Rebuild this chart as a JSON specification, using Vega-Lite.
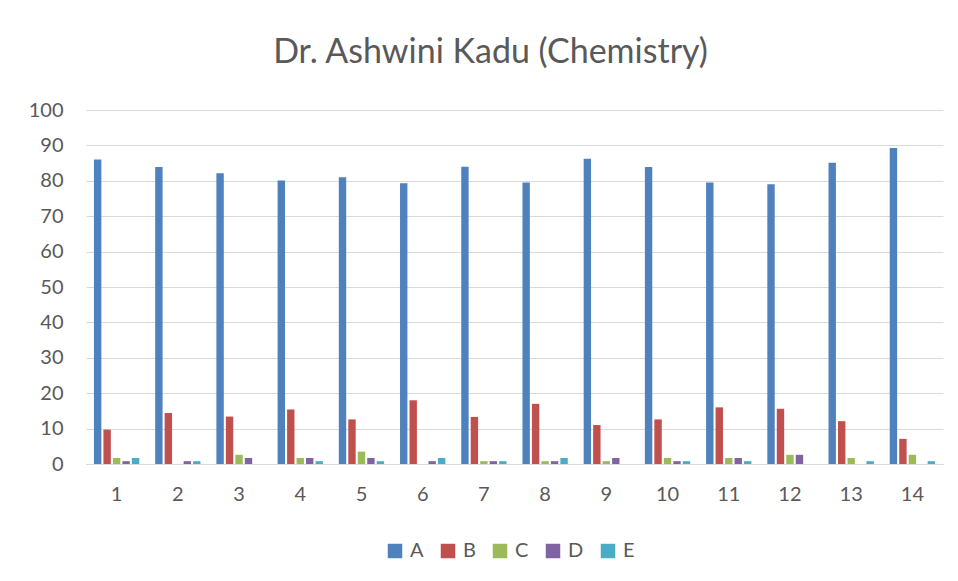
{
  "$schema": "https://vega.github.io/schema/vega-lite/v6.json",
  "autosize": "none",
  "width": 857,
  "height": 354,
  "padding": {"left": 86, "top": 110, "right": 15, "bottom": 117},
  "background": "white",
  "title": {"text": "Dr. Ashwini Kadu (Chemistry)", "fontSize": 34, "font": "Lato", "fontWeight": "normal", "color": "#595959", "anchor": "middle", "dx": -24, "offset": 30},
  "data": {"values": [
    {"g": "1", "s": "A", "v": 86.0}, {"g": "1", "s": "B", "v": 9.7}, {"g": "1", "s": "C", "v": 1.7}, {"g": "1", "s": "D", "v": 0.8}, {"g": "1", "s": "E", "v": 1.7},
    {"g": "2", "s": "A", "v": 83.9}, {"g": "2", "s": "B", "v": 14.4}, {"g": "2", "s": "C", "v": 0}, {"g": "2", "s": "D", "v": 0.8}, {"g": "2", "s": "E", "v": 0.8},
    {"g": "3", "s": "A", "v": 82.1}, {"g": "3", "s": "B", "v": 13.4}, {"g": "3", "s": "C", "v": 2.6}, {"g": "3", "s": "D", "v": 1.7}, {"g": "3", "s": "E", "v": 0},
    {"g": "4", "s": "A", "v": 80.1}, {"g": "4", "s": "B", "v": 15.4}, {"g": "4", "s": "C", "v": 1.7}, {"g": "4", "s": "D", "v": 1.7}, {"g": "4", "s": "E", "v": 0.8},
    {"g": "5", "s": "A", "v": 81.0}, {"g": "5", "s": "B", "v": 12.6}, {"g": "5", "s": "C", "v": 3.5}, {"g": "5", "s": "D", "v": 1.7}, {"g": "5", "s": "E", "v": 0.8},
    {"g": "6", "s": "A", "v": 79.3}, {"g": "6", "s": "B", "v": 18.0}, {"g": "6", "s": "C", "v": 0}, {"g": "6", "s": "D", "v": 0.8}, {"g": "6", "s": "E", "v": 1.7},
    {"g": "7", "s": "A", "v": 84.0}, {"g": "7", "s": "B", "v": 13.3}, {"g": "7", "s": "C", "v": 0.8}, {"g": "7", "s": "D", "v": 0.8}, {"g": "7", "s": "E", "v": 0.8},
    {"g": "8", "s": "A", "v": 79.5}, {"g": "8", "s": "B", "v": 17.0}, {"g": "8", "s": "C", "v": 0.8}, {"g": "8", "s": "D", "v": 0.8}, {"g": "8", "s": "E", "v": 1.7},
    {"g": "9", "s": "A", "v": 86.2}, {"g": "9", "s": "B", "v": 11.0}, {"g": "9", "s": "C", "v": 0.8}, {"g": "9", "s": "D", "v": 1.7}, {"g": "9", "s": "E", "v": 0},
    {"g": "10", "s": "A", "v": 83.9}, {"g": "10", "s": "B", "v": 12.6}, {"g": "10", "s": "C", "v": 1.7}, {"g": "10", "s": "D", "v": 0.8}, {"g": "10", "s": "E", "v": 0.8},
    {"g": "11", "s": "A", "v": 79.5}, {"g": "11", "s": "B", "v": 16.0}, {"g": "11", "s": "C", "v": 1.7}, {"g": "11", "s": "D", "v": 1.7}, {"g": "11", "s": "E", "v": 0.8},
    {"g": "12", "s": "A", "v": 79.0}, {"g": "12", "s": "B", "v": 15.6}, {"g": "12", "s": "C", "v": 2.6}, {"g": "12", "s": "D", "v": 2.6}, {"g": "12", "s": "E", "v": 0},
    {"g": "13", "s": "A", "v": 85.1}, {"g": "13", "s": "B", "v": 12.1}, {"g": "13", "s": "C", "v": 1.7}, {"g": "13", "s": "D", "v": 0}, {"g": "13", "s": "E", "v": 0.8},
    {"g": "14", "s": "A", "v": 89.3}, {"g": "14", "s": "B", "v": 7.1}, {"g": "14", "s": "C", "v": 2.6}, {"g": "14", "s": "D", "v": 0}, {"g": "14", "s": "E", "v": 0.8}
  ]},
  "mark": {"type": "bar"},
  "encoding": {
    "x": {"field": "g", "type": "ordinal", "sort": null,
      "scale": {"paddingInner": 0.26, "paddingOuter": 0.13},
      "axis": {"title": null, "labelAngle": 0, "labelFont": "Lato", "labelFontSize": 20, "labelColor": "#595959", "ticks": false, "domain": true, "domainColor": "#d9d9d9", "labelPadding": 20}},
    "xOffset": {"field": "s", "type": "nominal", "scale": {"paddingInner": 0.22}},
    "y": {"field": "v", "type": "quantitative",
      "scale": {"domain": [0, 100], "nice": false},
      "axis": {"title": null, "values": [0, 10, 20, 30, 40, 50, 60, 70, 80, 90, 100], "labelOverlap": false, "labelFont": "Lato", "labelFontSize": 20, "labelColor": "#595959", "ticks": false, "domain": false, "gridColor": "#d9d9d9", "gridWidth": 1, "labelPadding": 23}},
    "color": {"field": "s", "type": "nominal", "title": null,
      "scale": {"domain": ["A", "B", "C", "D", "E"], "range": ["#4f81bd", "#c0504d", "#9bbb59", "#8064a2", "#4bacc6"]},
      "legend": {"orient": "none", "legendX": 299, "legendY": 431, "direction": "horizontal", "symbolType": "square", "symbolSize": 210, "labelFont": "Lato", "labelFontSize": 20, "labelColor": "#595959", "labelOffset": 5, "columnPadding": 14, "symbolOpacity": 1, "symbolStrokeWidth": 0}}
  },
  "config": {"view": {"stroke": null}}
}
